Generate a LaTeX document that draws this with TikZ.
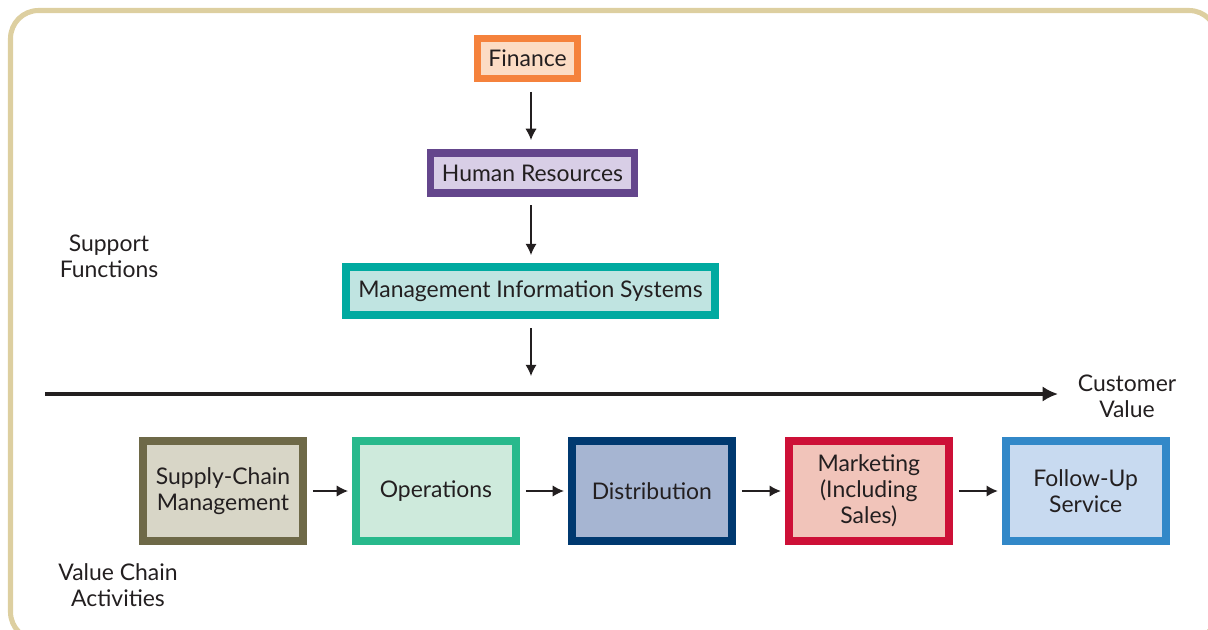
\documentclass[tikz,border=0pt]{standalone}
\usepackage{fontspec}
\setmainfont{Lato}
\usepackage{xcolor}
\usetikzlibrary{arrows.meta,positioning}
\definecolor{chainframe}{RGB}{221, 207, 160}
\definecolor{chaintext}{RGB}{35, 31, 32}
\definecolor{financeorange}{RGB}{245, 130, 60}
\definecolor{financefill}{RGB}{252, 220, 196}
\definecolor{hrpurple}{RGB}{100, 70, 140}
\definecolor{hrfill}{RGB}{216, 206, 230}
\definecolor{misteal}{RGB}{0, 170, 160}
\definecolor{misfill}{RGB}{192, 228, 225}
\definecolor{supplyolive}{RGB}{110, 105, 72}
\definecolor{supplyfill}{RGB}{216, 214, 199}
\definecolor{opsgreen}{RGB}{40, 185, 140}
\definecolor{opsfill}{RGB}{206, 234, 220}
\definecolor{distnavy}{RGB}{0, 57, 112}
\definecolor{distfill}{RGB}{166, 181, 210}
\definecolor{mktred}{RGB}{205, 16, 55}
\definecolor{mktfill}{RGB}{241, 196, 186}
\definecolor{servblue}{RGB}{50, 136, 200}
\definecolor{servfill}{RGB}{200, 218, 240}

\tikzset{
  chainfont/.style={font=\fontsize{16.3}{18.5}\selectfont, text=chaintext},
  supportbox/.style={chainfont, line width=5pt, inner sep=0pt, minimum height=1cm},
  activitybox/.style={chainfont, line width=5.6pt, inner sep=0pt, minimum width=4cm, minimum height=2.5cm, align=center},
  flowarrow/.style={-{Latex[length=8pt,width=8pt]}, line width=0.9pt, draw=chaintext},
  sidelabel/.style={chainfont, align=center}
}

\begin{document}
\begin{tikzpicture}[x=0.025cm, y=-0.025cm]
\useasboundingbox (0,0) rectangle (1208,630);
% frame
\draw[chainframe, line width=3.6pt, rounded corners=0.7cm] (10.5,10.5) rectangle (1217,640);

% support functions
\node[supportbox, draw=financeorange, fill=financefill, minimum width=2.5cm] (finance) at (527.5,58.5) {Finance};
\node[supportbox, draw=hrpurple, fill=hrfill, minimum width=5.1cm] (hr) at (532.5,173) {Human Resources};
\node[supportbox, draw=misteal, fill=misfill, line width=5.6pt, minimum width=9.225cm, minimum height=1.2cm] (mis) at (530.5,291) {Management Information Systems};
\coordinate (misend) at (531,376);

\draw[flowarrow] (531,92) -- (531,140);
\draw[flowarrow] (531,205) -- (531,255);
\draw[flowarrow] (531,328) -- (misend);

\node[sidelabel] (support) at (109,256) {Support\\Functions};

% customer value line
\coordinate (linestart) at (45,394);
\coordinate (lineend) at (1058,394);
\draw[-{Latex[length=11pt,width=11pt]}, line width=3.5pt, chaintext] (linestart) -- (lineend);
\node[sidelabel] (custvalue) at (1127,396) {Customer\\Value};

% value chain activities
\node[activitybox, draw=supplyolive, fill=supplyfill] (supply) at (223,491) {Supply-Chain\\Management};
\node[activitybox, draw=opsgreen, fill=opsfill, right=1.125cm of supply] (ops) {Operations};
\node[activitybox, draw=distnavy, fill=distfill, right=1.2cm of ops] (dist) {Distribution};
\node[activitybox, draw=mktred, fill=mktfill, right=1.225cm of dist] (mkt) {Marketing\\(Including\\Sales)};
\node[activitybox, draw=servblue, fill=servfill, right=1.225cm of mkt] (serv) {Follow-Up\\Service};

\foreach \a/\b in {supply/ops, ops/dist, dist/mkt, mkt/serv}
  \draw[flowarrow] ([xshift=0.15cm]\a.east) -- ([xshift=-0.1cm]\b.west);

\node[sidelabel] (vcactivities) at (118,585) {Value Chain\\Activities};
\end{tikzpicture}
\end{document}
